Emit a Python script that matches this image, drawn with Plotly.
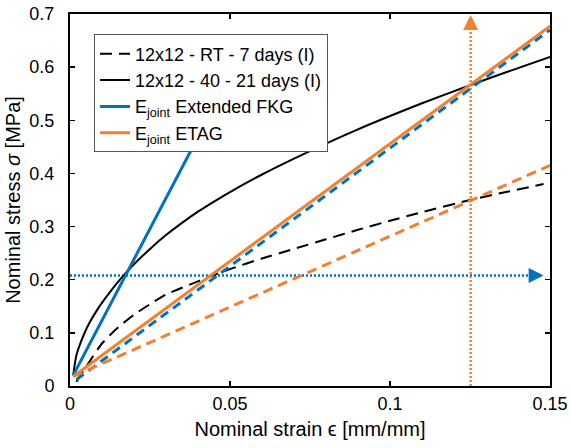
import plotly.graph_objects as go

# ---- data ----
strain_rt = [0.002, 0.006, 0.010, 0.015, 0.020, 0.025, 0.030, 0.040, 0.050, 0.060,
             0.070, 0.080, 0.090, 0.100, 0.110, 0.125, 0.137, 0.148]
stress_rt = [0.008, 0.045, 0.080, 0.110, 0.134, 0.154, 0.172, 0.197, 0.220, 0.240,
             0.258, 0.276, 0.294, 0.311, 0.327, 0.350, 0.366, 0.380]

strain_40 = [0.001, 0.002, 0.004, 0.006, 0.009, 0.012, 0.016, 0.020, 0.025, 0.030,
             0.035, 0.040, 0.045, 0.050, 0.060, 0.070, 0.080, 0.090, 0.100, 0.110,
             0.125, 0.138, 0.150]
stress_40 = [0.020, 0.058, 0.092, 0.118, 0.148, 0.173, 0.203, 0.229, 0.258, 0.284,
             0.307, 0.328, 0.347, 0.365, 0.398, 0.428, 0.456, 0.483, 0.508, 0.532,
             0.566, 0.594, 0.619]

fkg_solid_x = [0.001, 0.045]
fkg_solid_y = [0.020, 0.526]
fkg_dash_x = [0.002, 0.150]
fkg_dash_y = [0.012, 0.670]

etag_solid_x = [0.001, 0.150]
etag_solid_y = [0.018, 0.677]
etag_dash_x = [0.001, 0.150]
etag_dash_y = [0.018, 0.415]

hline_x = [0.0, 0.146]
hline_y = [0.208, 0.208]
hline_tip_x = [0.148]
hline_tip_y = [0.208]
vline_x = [0.1252, 0.1252]
vline_y = [0.0, 0.685]
vline_tip_x = [0.1252]
vline_tip_y = [0.698]

x_ticks = [0, 0.05, 0.1, 0.15]
x_ticktext = ["0", "0.05", "0.1", "0.15"]
y_ticks = [0, 0.1, 0.2, 0.3, 0.4, 0.5, 0.6, 0.7]
y_ticktext = ["0", "0.1", "0.2", "0.3", "0.4", "0.5", "0.6", "0.7"]

BLUE = "#0072BD"
ORANGE = "#F47F2F"
FONT = "Liberation Sans, Arial, Helvetica, sans-serif"

fig = go.Figure()

fig.add_trace(go.Scatter(x=hline_x, y=hline_y, mode="lines", showlegend=False,
                         line=dict(color=BLUE, width=2.5, dash="2px,2px")))
fig.add_trace(go.Scatter(x=vline_x, y=vline_y, mode="lines", showlegend=False,
                         line=dict(color=ORANGE, width=2.5, dash="2px,2px")))

fig.add_trace(go.Scatter(x=strain_rt, y=stress_rt, mode="lines",
                         name="12x12 - RT - 7 days (I)",
                         line=dict(color="black", width=2, dash="12px,7px",
                                   shape="spline", smoothing=0.6)))
fig.add_trace(go.Scatter(x=strain_40, y=stress_40, mode="lines",
                         name="12x12 - 40 - 21 days (I)",
                         line=dict(color="black", width=2,
                                   shape="spline", smoothing=0.6)))
fig.add_trace(go.Scatter(x=fkg_dash_x, y=fkg_dash_y, mode="lines", showlegend=False,
                         line=dict(color=BLUE, width=3, dash="9px,6px")))
fig.add_trace(go.Scatter(x=fkg_solid_x, y=fkg_solid_y, mode="lines",
                         name="E<sub>joint</sub> Extended FKG",
                         line=dict(color=BLUE, width=3)))
fig.add_trace(go.Scatter(x=etag_dash_x, y=etag_dash_y, mode="lines", showlegend=False,
                         line=dict(color=ORANGE, width=3, dash="10px,6px")))
fig.add_trace(go.Scatter(x=etag_solid_x, y=etag_solid_y, mode="lines",
                         name="E<sub>joint</sub> ETAG",
                         line=dict(color=ORANGE, width=3)))

# arrow heads (tip of the "arrow" symbol sits on the data point)
fig.add_trace(go.Scatter(x=hline_tip_x, y=hline_tip_y, mode="markers", showlegend=False,
                         marker=dict(symbol="arrow-right", size=15, color=BLUE,
                                     line=dict(width=0))))
fig.add_trace(go.Scatter(x=vline_tip_x, y=vline_tip_y, mode="markers", showlegend=False,
                         marker=dict(symbol="arrow-up", size=15, color=ORANGE,
                                     line=dict(width=0))))

axis_common = dict(showline=True, linecolor="black", linewidth=2, mirror="ticks",
                   ticks="inside", ticklen=5, tickwidth=1.5, tickcolor="black",
                   showgrid=False, zeroline=False, automargin=False,
                   ticklabeloverflow="allow",
                   tickfont=dict(family=FONT, size=18, color="black"))

fig.update_layout(
    width=570, height=448,
    margin=dict(l=70, r=20, t=14, b=62),
    paper_bgcolor="white", plot_bgcolor="white",
    font=dict(family=FONT, color="black"),
    xaxis=dict(range=[0, 0.15], tickvals=x_ticks, ticktext=x_ticktext,
               ticklabelstandoff=0,
               title=dict(text="Nominal strain \u03f5 [mm/mm]",
                          font=dict(family=FONT, size=20), standoff=9),
               **axis_common),
    yaxis=dict(range=[0, 0.7], tickvals=y_ticks, ticktext=y_ticktext,
               ticklabelstandoff=10,
               title=dict(text="Nominal stress <i>\u03c3</i> [MPa]",
                          font=dict(family=FONT, size=20), standoff=3),
               **axis_common),
    legend=dict(x=0.05, y=0.945, xanchor="left", yanchor="top",
                bgcolor="white", bordercolor="#555555", borderwidth=1,
                font=dict(family=FONT, size=18, color="black"),
                tracegroupgap=0, itemwidth=30),
)

fig.write_html("out.html",
               config={"displayModeBar": False, "staticPlot": True},
               post_script="document.body.style.margin='0';document.body.style.overflow='hidden';")
